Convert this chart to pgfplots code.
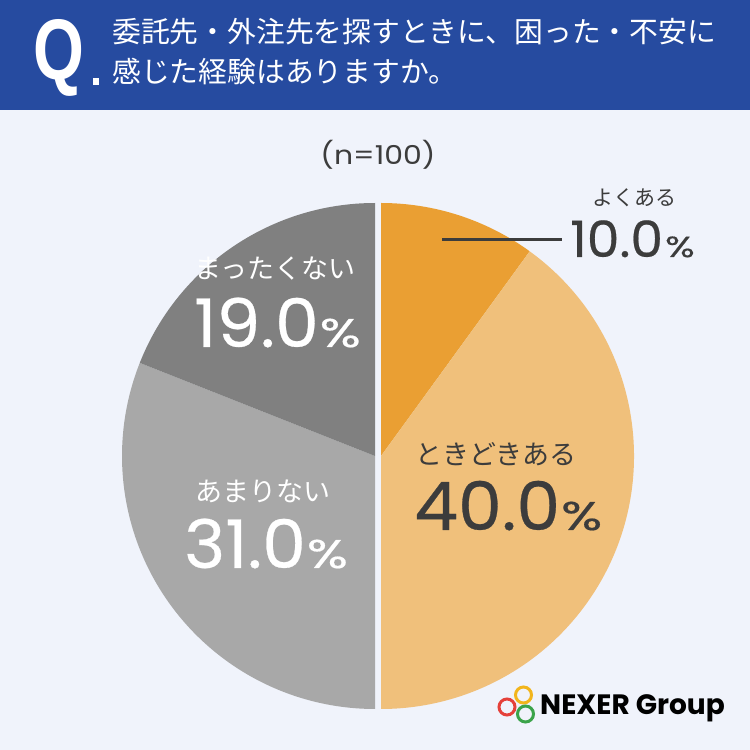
\documentclass[border=0pt]{standalone}
\usepackage{pgfplots}
\pgfplotsset{compat=1.18}
\usepackage{pgfplotstable}
\usepackage{fontspec}
\setmainfont{Poppins}
\newfontfamily\jp{Noto Sans CJK JP}
\newfontfamily\num{Poppins}[FakeStretch=1.04, FakeBold=0.4]
\newfontfamily\numn{Poppins}[FakeStretch=1.15]
\newfontfamily\logo{Poppins}
\newfontfamily\qfont{Liberation Sans}
\newcommand{\fs}[1]{\fontsize{#1}{#1}\selectfont}
\newcommand{\pct}{\scalebox{1.3}[1]{\%}}

\definecolor{bgc}{HTML}{F0F3FB}
\definecolor{hdr}{HTML}{264BA0}
\definecolor{org}{HTML}{EA9F33}
\definecolor{lorg}{HTML}{F0C07B}
\definecolor{lgry}{HTML}{A8A8A8}
\definecolor{dgry}{HTML}{808080}
\definecolor{txt}{HTML}{3C3C3C}
\definecolor{ringY}{HTML}{F2B51C}
\definecolor{ringR}{HTML}{E5403A}
\definecolor{ringG}{HTML}{3BA34A}

\pgfplotstableread{
idx value
1 10
2 40
3 31
4 19
}\piedata

\begin{document}
\begin{tikzpicture}
\pgfplotstablegetelem{0}{value}\of\piedata \let\va\pgfplotsretval
\pgfplotstablegetelem{1}{value}\of\piedata \let\vb\pgfplotsretval
\pgfplotstablegetelem{2}{value}\of\piedata \let\vc\pgfplotsretval
\pgfplotstablegetelem{3}{value}\of\piedata \let\vd\pgfplotsretval
\pgfmathsetmacro\aA{90}
\pgfmathsetmacro\aB{\aA-3.6*\va}
\pgfmathsetmacro\aC{\aB-3.6*\vb}
\pgfmathsetmacro\aD{\aC-3.6*\vc}
\pgfmathsetmacro\aE{\aD-3.6*\vd}
\begin{axis}[at={(0,0)}, anchor=south west, width=750pt, height=750pt, scale only axis,
  xmin=0, xmax=750, ymin=0, ymax=750, hide axis, clip=false]
% background and header
\fill[bgc] (axis cs:0,0) rectangle (axis cs:750,750);
\fill[hdr] (axis cs:0,640) rectangle (axis cs:750,750);
\node[anchor=base west, text=white, inner sep=0pt, font=\qfont\bfseries\fs{86}, xscale=0.76] at (axis cs:33,670) {Q};
\fill[white] (axis cs:93,665) rectangle (axis cs:99,672);
\node[anchor=base west, text=white, inner sep=0pt, font=\jp\fs{28.8}] at (axis cs:112,707) {委託先・外注先を探すときに、困った・不安に};
\node[anchor=base west, text=white, inner sep=0pt, font=\jp\fs{28.8}] at (axis cs:112,667) {感じた経験はありますか。};
% pie
\fill[org] (axis cs:381,294) -- ++(\aA:253pt) arc[start angle=\aA, end angle=\aB, radius=253pt] -- cycle;
\fill[lorg] (axis cs:381,294) -- ++(\aB:253pt) arc[start angle=\aB, end angle=\aC, radius=253pt] -- cycle;
\fill[lgry] (axis cs:375,294) -- ++(\aC:253pt) arc[start angle=\aC, end angle=\aD, radius=253pt] -- cycle;
\fill[dgry] (axis cs:375,294) -- ++(\aD:253pt) arc[start angle=\aD, end angle=\aE, radius=253pt] -- cycle;
% n
\node[anchor=base, text=txt, inner sep=0pt, font=\numn\fs{26}] at (axis cs:378,585) {(n=100)};
% labels
\draw[txt, line width=3pt] (axis cs:442,510) -- (axis cs:562,510);
\node[anchor=base, text=txt, inner sep=0pt, font=\jp\fs{21}] at (axis cs:634,544) {よくある};
\node[anchor=base west, text=txt, inner sep=0pt, font=\num] at (axis cs:570,493) {\fs{50}10.0\hspace{2pt}{\fs{29}\pct}};
\node[anchor=base, text=txt, inner sep=0pt, font=\jp\fs{27}] at (axis cs:496,285) {ときどきある};
\node[anchor=base west, text=txt, inner sep=0pt, font=\num] at (axis cs:414,220) {\fs{67}40.0\hspace{1pt}{\fs{40}\pct}};
\node[anchor=base, text=white, inner sep=0pt, font=\jp\fs{27}] at (axis cs:263,248) {あまりない};
\node[anchor=base west, text=white, inner sep=0pt, font=\num] at (axis cs:184,182) {\fs{67}31.0\hspace{1pt}{\fs{40}\pct}};
\node[anchor=base, text=white, inner sep=0pt, font=\jp\fs{27}] at (axis cs:275,471) {まったくない};
\node[anchor=base west, text=white, inner sep=0pt, font=\num] at (axis cs:194,403) {\fs{67}19.0\hspace{1pt}{\fs{40}\pct}};
% logo
\draw[ringY, line width=3pt] (axis cs:523.5,55) circle[radius=8pt];
\draw[ringR, line width=3pt] (axis cs:507,43) circle[radius=8pt];
\draw[ringG, line width=3pt] (axis cs:525.5,36) circle[radius=8pt];
\node[anchor=base west, text=black, inner sep=0pt, font=\logo\bfseries\fs{28}] at (axis cs:540,35) {NEXER Group};
\end{axis}
\end{tikzpicture}
\end{document}
